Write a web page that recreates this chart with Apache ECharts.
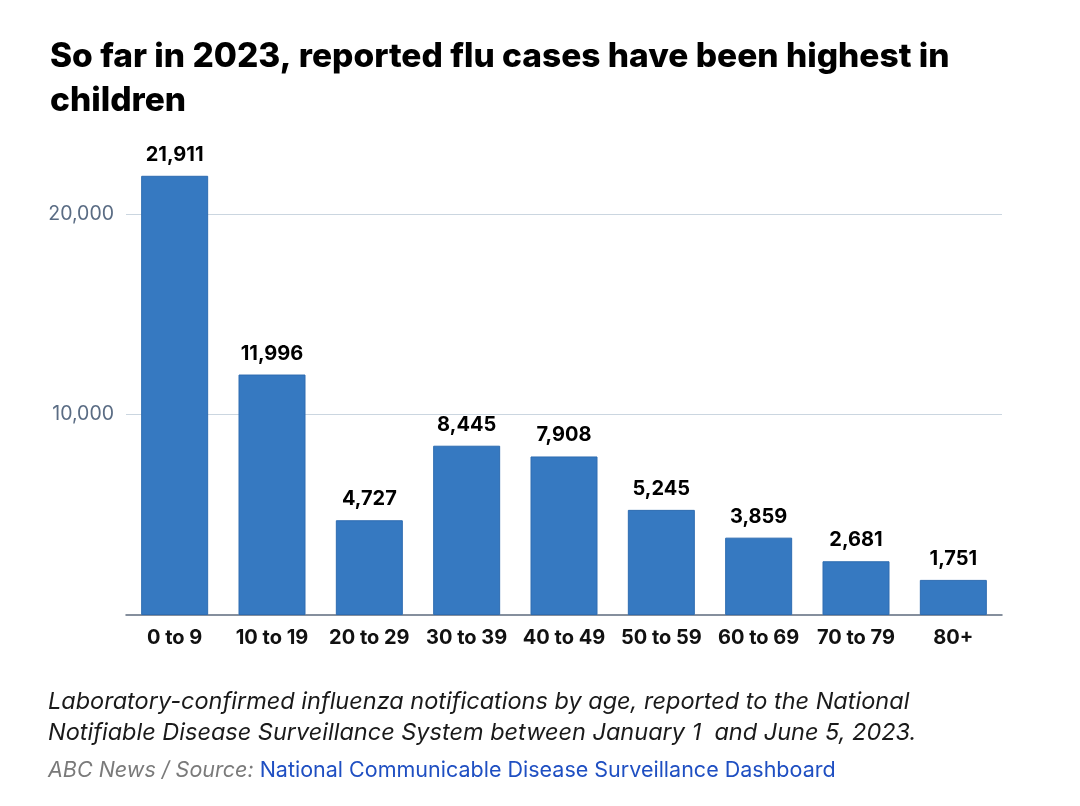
<!DOCTYPE html>
<html>
<head>
<meta charset="utf-8">
<script src="https://cdn.jsdelivr.net/npm/echarts@6/dist/echarts.min.js"></script>
<style>
html,body{margin:0;padding:0;background:#fff;}
#chart{width:1080px;height:806px;}
</style>
</head>
<body>
<div id="chart"></div>
<script>
const categories = ['0 to 9','10 to 19','20 to 29','30 to 39','40 to 49','50 to 59','60 to 69','70 to 79','80+'];
const cases = [21911, 11996, 4727, 8445, 7908, 5245, 3859, 2681, 1751];
const yTicks = [0, 10000, 20000];

const titleText = 'So far in 2023, reported flu cases have been highest in\nchildren';
const noteLines = ['Laboratory-confirmed influenza notifications by age, reported to the National',
                   'Notifiable Disease Surveillance System between January 1  and June 5, 2023.'];
const sourcePrefix = 'ABC News / Source: ';
const sourceLink = 'National Communicable Disease Surveillance Dashboard';

const fmt = v => v.toLocaleString('en-US');
const chart = echarts.init(document.getElementById('chart'));
chart.setOption({
  animation: false,
  backgroundColor: '#fff',
  textStyle: { fontFamily: 'Inter, Roboto, sans-serif' },
  title: {
    text: titleText,
    left: 45, top: 30,
    textStyle: { fontFamily: 'Inter, Roboto, sans-serif', fontWeight: 800, fontSize: 33.5, color: '#000', lineHeight: 44 }
  },
  grid: { left: 126, right: 78, top: 174, bottom: 191, containLabel: false },
  xAxis: {
    type: 'category',
    data: categories,
    axisLine: { lineStyle: { color: '#5d6b7d', width: 1.5 } },
    axisTick: { show: false },
    axisLabel: { color: '#111', fontSize: 20, fontWeight: 700, margin: 13, interval: 0 }
  },
  yAxis: {
    type: 'value',
    min: 0, max: 22000, interval: 10000,
    axisLine: { show: false },
    axisTick: { show: false },
    axisLabel: { color: '#5a6c84', fontSize: 19.5, margin: 12, showMinLabel: false, showMaxLabel: false,
      formatter: v => yTicks.includes(v) ? fmt(v) : '' },
    splitLine: { show: true, showMinLine: false, showMaxLine: false, lineStyle: { color: '#cbd6e0', width: 1 } }
  },
  series: [{
    type: 'bar',
    data: cases,
    barWidth: 67,
    itemStyle: { color: '#3679c1', borderColor: '#2e6cb1', borderWidth: 1 },
    label: { show: true, position: 'top', distance: 11, color: '#000', fontSize: 20, fontWeight: 700,
      formatter: p => fmt(p.value) }
  }],
  graphic: [
    { type: 'text', left: 48, top: 686, style: { text: noteLines.join('\n'), fontFamily: 'Inter, Roboto, sans-serif', fontStyle: 'italic', fontSize: 23.5, lineHeight: 31, fill: '#1a1a1a' } },
    { type: 'text', left: 48, top: 760, style: {
        text: '{a|' + sourcePrefix + '}{b|' + sourceLink + '}',
        rich: {
          a: { fontFamily: 'Inter, Roboto, sans-serif', fontStyle: 'italic', fontSize: 21.5, fill: '#7a7a7a', color: '#7a7a7a' },
          b: { fontFamily: 'Inter, Roboto, sans-serif', fontSize: 21.5, fill: '#1f4fc2', color: '#1f4fc2' }
        } } }
  ]
});
</script>
</body>
</html>
